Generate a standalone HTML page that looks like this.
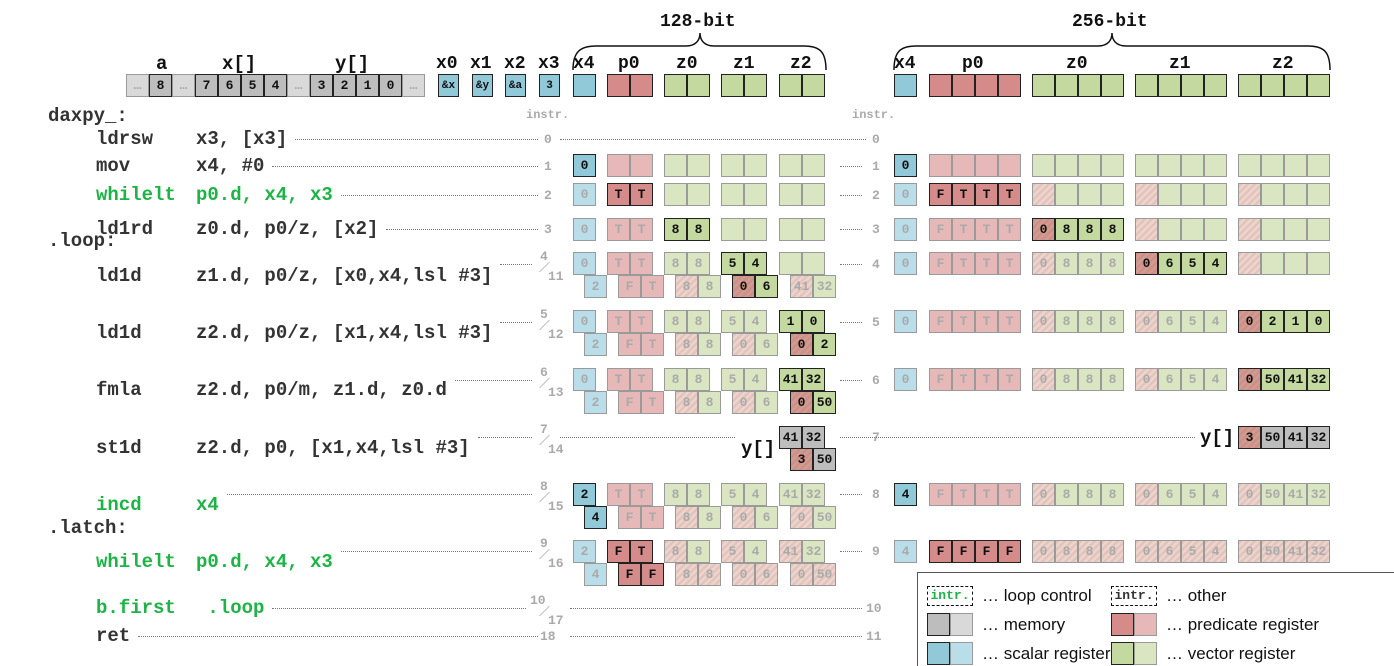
<!DOCTYPE html>
<html><head><meta charset="utf-8">
<style>
html,body{margin:0;padding:0;background:#fff;}
#root{position:relative;width:1394px;height:666px;overflow:hidden;font-family:"Liberation Mono",monospace;}
.t{position:absolute;white-space:pre;font-weight:bold;line-height:1;}
.c{position:absolute;box-sizing:border-box;width:23px;height:23px;font:bold 13px "Liberation Mono",monospace;display:flex;align-items:center;justify-content:center;}
.dot{position:absolute;height:0;border-top:1.3px dotted #777;}
.num{position:absolute;font:bold 13px "Liberation Mono",monospace;color:#aaa;}
</style></head>
<body>
<div id="root"></div>
<script>
const root=document.getElementById('root');
const COL={s:['#92c9d8','#b9dde9'],p:['#d58b8a','#e6b8b7'],v:['#c4d99f','#dae6c1'],m:['#bdbdbd','#d9d9d9']};
const HATCH=[['#d58b8a','#c9a08f'],['#e6c2bd','#ead6cc']];
function el(tag,cls,style,txt){const e=document.createElement(tag);if(cls)e.className=cls;Object.assign(e.style,style);if(txt!==undefined)e.textContent=txt;root.appendChild(e);return e;}
function text(x,y,s,size,color,name){const e=el('div','t',{left:x+'px',top:(y-size*0.5)+'px',fontSize:size+'px',color:color},s);

return e;}
function cell(x,y,kind,dark,val,hatch,name){
 const bg=COL[kind][dark?0:1];
 const h=HATCH[dark?0:1];
 const e=el('div','c',{left:x+'px',top:y+'px',background:hatch?'repeating-linear-gradient(135deg,'+h[0]+' 0 2.5px,'+h[1]+' 2.5px 5px)':bg,border:dark?'1.5px solid #222':'1.5px solid #9a9a9a',color:dark?'#111':'#aaa'},val||'');
 
 
 return e;}
function group(x,y,kind,dark,vals,hatches,name){vals.forEach((v,i)=>cell(x+i*23,y,kind,dark,v,hatches&&hatches[i],name+'-cell'));}
function dot(x1,x2,y){const e=el('div','dot',{left:x1+'px',top:y+'px',width:(x2-x1)+'px'});

}
function num(x,y,s){const e=el('div','num',{left:x+'px',top:(y-7)+'px'},s);

}

// ---- header ----
text(156,64,'a',19,'#111','label-a');text(222,64,'x[]',19,'#111','label-x-array');text(335,64,'y[]',19,'#111','label-y-array');
[['x0',436],['x1',470],['x2',504],['x3',538],['x4',573],['p0',618],['z0',676],['z1',733],['z2',790]].forEach(a=>text(a[1],64,a[0],18,'#111','header-'+a[0]));
[['x4',894],['p0',962],['z0',1066],['z1',1169],['z2',1272]].forEach(a=>text(a[1],64,a[0],18,'#111','header-256-'+a[0]));
text(660,22,'128-bit',18,'#111','label-128-bit');text(1072,22,'256-bit',18,'#111','label-256-bit');
root.insertAdjacentHTML('beforeend','<svg style="position:absolute;left:0;top:0" width="1394" height="100"><path d="M573,70 C573,52 580,46 596,46 L686,46 C696,46 700,40 700,33 C700,40 704,46 714,46 L804,46 C820,46 826,52 826,70" fill="none" stroke="#111" stroke-width="1.5"/><path d="M894,70 C894,52 900,46 916,46 L1098,46 C1108,46 1112,40 1112,33 C1112,40 1116,46 1126,46 L1308,46 C1324,46 1330,52 1330,70" fill="none" stroke="#111" stroke-width="1.5"/></svg>');
const memVals=['…','8','…','7','6','5','4','…','3','2','1','0','…'];
memVals.forEach((v,i)=>{const d=v!=='…';cell(126+i*23,74,'m',d,v,false,'memory-cell');});
[['&x',438],['&y',472],['&a',505],['3',539]].forEach(a=>{const c=cell(a[1],74,'s',true,a[0],false,'scalar-header-'+a[0]);c.style.width='21px';c.style.fontSize='11px';});
cell(573,74,'s',true,'',false,'x4-header');group(607,74,'p',true,['',''],null,'p0-header');
group(664,74,'v',true,['',''],null,'z0-header');group(721,74,'v',true,['',''],null,'z1-header');group(779,74,'v',true,['',''],null,'z2-header');
cell(894,74,'s',true,'',false,'x4-header-256');group(929,74,'p',true,['','','',''],null,'p0-header-256');
group(1032,74,'v',true,['','','',''],null,'z0-header-256');group(1135,74,'v',true,['','','',''],null,'z1-header-256');group(1238,74,'v',true,['','','',''],null,'z2-header-256');
text(526,115,'instr.',12,'#aaa','instr-header');text(852,115,'instr.',12,'#aaa','instr-header-256');

// ---- code ----
const G='#1db446',K='#333',CW=11.4;
const code=[['daxpy_:','',116,K,48],['ldrsw','x3, [x3]',139,K],['mov','x4, #0',166,K],['whilelt','p0.d, x4, x3',195,G],['ld1rd','z0.d, p0/z, [x2]',229,K],
['.loop:','',241,K,48],['ld1d','z1.d, p0/z, [x0,x4,lsl #3]',276,K],['ld1d','z2.d, p0/z, [x1,x4,lsl #3]',333,K],['fmla','z2.d, p0/m, z1.d, z0.d',390,K],
['st1d','z2.d, p0, [x1,x4,lsl #3]',448,K],['incd','x4',505,G],['.latch:','',528,K,48],['whilelt','p0.d, x4, x3',562,G],['b.first',' .loop',608,G],['ret','',636,K]];
const ends=[];
code.forEach(c=>{const x=c[4]||96;text(x,c[2],c[0],19,c[3],'code-mnemonic');
 let end=x+c[0].length*CW;
 if(c[1]){text(196,c[2],c[1],19,c[3],'code-operands');end=196+c[1].length*CW;}
 if(!c[4])ends.push(end);});
const lines=[[139,'0','0'],[166,'1','1'],[195,'2','2'],[229,'3','3'],[264,'4/11','4'],[322,'5/12','5'],[380,'6/13','6'],[437,'7/14','7'],[494,'8/15','8'],[551,'9/16','9'],[608,'10/17','10'],[636,'18','11']];
lines.forEach((l,i)=>{const y=l[0];dot(ends[i]+8,l[1].length>2?(l[1].length>4?526:532):538,y);
 if(l[1].includes('/')){const p=l[1].split('/');num(p[0].length>1?530:540,y-8,p[0]);num(548,y+12,p[1]);
   const s=el('div','',{position:'absolute',left:'544px',top:(y-4)+'px',width:'1px',height:'14px',background:'#bbb',transform:'rotate(45deg)'});
   
   }
 else num(l[1].length>1?540:544,y,l[1]);
 num(l[2].length>1?866:872,y,l[2]);});
dot(560,866,139);dot(840,862,166);dot(840,862,195);dot(840,862,229);dot(840,862,264);dot(840,862,322);dot(840,862,380);dot(840,862,494);dot(840,862,551);dot(570,862,608);dot(570,862,636);
dot(560,735,437);dot(840,1195,437);

// ---- left grid data ----
const L=[573,607,664,721,779];
const K5=['s','p','v','v','v'];
const leftRows=[
[154,0,[[['0'],1],[['',''],0],[['',''],0],[['',''],0],[['',''],0]]],
[183,0,[[['0'],0],[['T','T'],1],[['',''],0],[['',''],0],[['',''],0]]],
[218,0,[[['0'],0],[['T','T'],0],[['8','8'],1],[['',''],0],[['',''],0]]],
[252,0,[[['0'],0],[['T','T'],0],[['8','8'],0],[['5','4'],1],[['',''],0]]],
[275,1,[[['2'],0],[['F','T'],0],[['8','8'],0,[1,0]],[['0','6'],1,[1,0]],[['41','32'],0,[1,0]]]],
[310,0,[[['0'],0],[['T','T'],0],[['8','8'],0],[['5','4'],0],[['1','0'],1]]],
[333,1,[[['2'],0],[['F','T'],0],[['8','8'],0,[1,0]],[['0','6'],0,[1,0]],[['0','2'],1,[1,0]]]],
[368,0,[[['0'],0],[['T','T'],0],[['8','8'],0],[['5','4'],0],[['41','32'],1]]],
[391,1,[[['2'],0],[['F','T'],0],[['8','8'],0,[1,0]],[['0','6'],0,[1,0]],[['0','50'],1,[1,0]]]],
[483,0,[[['2'],1],[['T','T'],0],[['8','8'],0],[['5','4'],0],[['41','32'],0]]],
[506,1,[[['4'],1],[['F','T'],0],[['8','8'],0,[1,0]],[['0','6'],0,[1,0]],[['0','50'],0,[1,0]]]],
[540,0,[[['2'],0],[['F','T'],1],[['8','8'],0,[1,0]],[['5','4'],0,[1,0]],[['41','32'],0,[1,0]]]],
[563,1,[[['4'],0],[['F','F'],1],[['8','8'],0,[1,1]],[['0','6'],0,[1,1]],[['0','50'],0,[1,1]]]]];
leftRows.forEach(r=>{r[2].forEach((g,i)=>{const x=L[i]+(r[1]?11:0);const k=K5[i];
 g[0].forEach((v,j)=>cell(x+j*23,r[0],k,g[1],v,g[2]&&g[2][j],'reg-cell-'+k));});});
group(779,426,'m',true,['41','32'],null,'y-store-mem');group(790,448,'m',true,['3','50'],[1,0],'y-store-mem2');
text(741,449,'y[]',19,'#111','y-array-label');

// ---- right grid ----
const R=[894,929,1032,1135,1238];
const E4=['','','',''];
const rightRows=[
[154,[[['0'],1],[E4,0],[E4,0],[E4,0],[E4,0]]],
[183,[[['0'],0],[['F','T','T','T'],1],[E4,0,[1]],[E4,0,[1]],[E4,0,[1]]]],
[218,[[['0'],0],[['F','T','T','T'],0],[['0','8','8','8'],1,[1]],[E4,0,[1]],[E4,0,[1]]]],
[252,[[['0'],0],[['F','T','T','T'],0],[['0','8','8','8'],0,[1]],[['0','6','5','4'],1,[1]],[E4,0,[1]]]],
[310,[[['0'],0],[['F','T','T','T'],0],[['0','8','8','8'],0,[1]],[['0','6','5','4'],0,[1]],[['0','2','1','0'],1,[1]]]],
[368,[[['0'],0],[['F','T','T','T'],0],[['0','8','8','8'],0,[1]],[['0','6','5','4'],0,[1]],[['0','50','41','32'],1,[1]]]],
[483,[[['4'],1],[['F','T','T','T'],0],[['0','8','8','8'],0,[1]],[['0','6','5','4'],0,[1]],[['0','50','41','32'],0,[1]]]],
[540,[[['4'],0],[['F','F','F','F'],1],[['0','8','8','8'],0,[1,1,1,1]],[['0','6','5','4'],0,[1,1,1,1]],[['0','50','41','32'],0,[1,1,1,1]]]]];
rightRows.forEach(r=>{r[1].forEach((g,i)=>{const k=K5[i];g[0].forEach((v,j)=>cell(R[i]+j*23,r[0],k,g[1],v,g[2]&&g[2][j],'reg256-cell-'+k));});});
group(1238,426,'m',true,['3','50','41','32'],[1,0,0,0],'y-store-mem-256');
text(1200,438,'y[]',19,'#111','y-array-label-256');

// ---- legend ----
const lg=el('div','',{position:'absolute',left:'917px',top:'572px',width:'500px',height:'120px',border:'1.5px solid #555',boxSizing:'border-box'});


const SF='"Liberation Sans",sans-serif';
function ltxt(x,y,s){const e=el('div','',{position:'absolute',left:x+'px',top:(y-10)+'px',font:'17px '+SF,color:'#111',whiteSpace:'pre'},s);

}
function lbox(x,y,s,color,name){const e=el('div','',{position:'absolute',left:x+'px',top:(y-10)+'px',width:'46px',height:'20px',boxSizing:'border-box',border:'1.5px dashed #111',font:'bold 13px "Liberation Mono",monospace',color:color,textAlign:'center',lineHeight:'17px'},s);

}
lbox(927,596,'intr.','#1db446','legend-loop-control');ltxt(982,596,'… loop control');
lbox(1111,596,'intr.','#333','legend-other');ltxt(1166,596,'… other');
function lpair(x,y,k,name){cell(x,y-12,k,true,'',false,name);cell(x+23,y-12,k,false,'',false,name);}
lpair(927,625,'m','legend-memory');ltxt(982,625,'… memory');
lpair(1111,625,'p','legend-predicate');ltxt(1166,625,'… predicate register');
lpair(927,654,'s','legend-scalar');ltxt(982,654,'… scalar register');
lpair(1111,654,'v','legend-vector');ltxt(1166,654,'… vector register');
</script>
</body></html>
